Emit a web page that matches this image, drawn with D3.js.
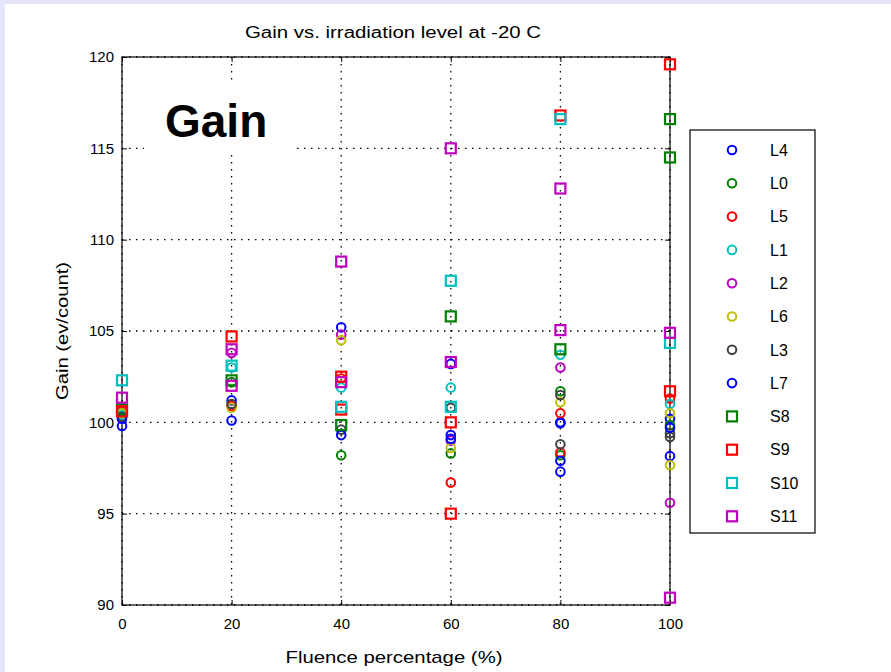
<!DOCTYPE html>
<html><head><meta charset="utf-8">
<script src="https://cdn.jsdelivr.net/npm/d3@7/dist/d3.min.js"></script>
<style>
html,body{margin:0;padding:0;background:#fff;}
svg{display:block;}
text{font-family:"Liberation Sans",Arial,Helvetica,sans-serif;}
</style>
</head><body>
<svg id="chart" width="891" height="672"></svg>
<script>
// ---------------- data ----------------
const titleText = "Gain vs. irradiation level at -20 C";
const xLabelText = "Fluence percentage (%)";
const yLabelText = "Gain (ev/count)";
const overlayText = "Gain";
const xValues = [0, 20, 40, 60, 80, 100];
const xTicks = [0, 20, 40, 60, 80, 100];
const yTicks = [90, 95, 100, 105, 110, 115, 120];
const seriesNames = ["L4","L0","L5","L1","L2","L6","L3","L7","S8","S9","S10","S11"];
// values per series: one list of readings for each fluence level in xValues
const L4  = [[99.8],  [101.2], [105.2],        [103.2],        [100.0, 97.3],  [100.2, 98.15]];
const L0  = [[100.5], [102.2], [98.2],         [98.3],         [101.7, 98.2],  [99.85]];
const L5  = [[100.6], [100.9], [102.4],        [96.7],         [100.5, 98.35], [101.3]];
const L1  = [[100.4], [103.0], [101.9],        [101.9],        [103.7],        [101.0]];
const L2  = [[100.7], [103.8], [104.8],        [99.0],         [103.0],        [95.6]];
const L6  = [[100.5], [100.8], [104.5],        [98.6],         [101.1],        [100.5, 97.65]];
const L3  = [[100.3], [101.0], [99.6],         [100.8],        [101.5, 98.8],  [99.4, 99.2]];
const L7  = [[100.2], [100.1], [99.3],         [99.3, 99.1],   [99.95, 97.9],  [99.7]];
const S8  = [[100.7], [102.3], [99.85],        [105.8],        [104.0],        [116.6, 114.5]];
const S9  = [[100.6], [104.7], [102.5, 100.7], [100.0, 95.0],  [116.8],        [119.6, 101.7]];
const S10 = [[102.3], [103.1], [100.85],       [107.75, 100.85],[116.6],       [104.35]];
const S11 = [[101.35],[104.0, 102.0], [108.8, 102.2], [115.0, 103.3], [112.8, 105.05], [104.9, 90.4]];
const seriesValues = [L4, L0, L5, L1, L2, L6, L3, L7, S8, S9, S10, S11];

// ---------------- styles ----------------
const seriesColors = ["#0000ff","#008000","#ff0000","#00bfbf","#bf00bf","#bfbf00","#404040","#0000ff",
                      "#008000","#ff0000","#00bfbf","#bf00bf"];
const seriesMarkers = ["o","o","o","o","o","o","o","o","s","s","s","s"];

const svg = d3.select("#chart");
const W = 891, H = 672;
svg.append("rect").attr("width", W).attr("height", H).attr("fill", "#e5e5fa");
svg.append("rect").attr("x", 5).attr("y", 4).attr("width", W - 5).attr("height", H - 4).attr("fill", "#ffffff");

const plot = {left: 122, right: 670, top: 57, bottom: 605};
const x = d3.scaleLinear().domain([0, 100]).range([plot.left, plot.right]);
const y = d3.scaleLinear().domain([90, 120]).range([plot.bottom, plot.top]);

// grid
const grid = svg.append("g").attr("stroke", "#000").attr("stroke-width", 1.3)
  .attr("stroke-dasharray", "1.5,5.5");
grid.selectAll("line.gx").data(xTicks).join("line")
  .attr("x1", d => x(d)).attr("x2", d => x(d)).attr("y1", plot.top).attr("y2", plot.bottom);
grid.selectAll("line.gy").data(yTicks).join("line")
  .attr("y1", d => y(d)).attr("y2", d => y(d)).attr("x1", plot.left).attr("x2", plot.right);

// overlay label with white background
svg.append("rect").attr("x", 144).attr("y", 84).attr("width", 148).attr("height", 70).attr("fill", "#fff");
svg.append("text").attr("x", 165).attr("y", 137).attr("font-size", 46).attr("font-weight", "bold")
  .attr("fill", "#000").text(overlayText);

// axes (ticks pointing inward, on all four sides)
const fs = 15;
const axB = svg.append("g").attr("transform", `translate(0,${plot.bottom})`)
  .call(d3.axisBottom(x).tickValues(xTicks).tickSizeInner(-5).tickSizeOuter(0).tickPadding(13).tickFormat(d3.format("d")));
const axL = svg.append("g").attr("transform", `translate(${plot.left},0)`)
  .call(d3.axisLeft(y).tickValues(yTicks).tickSizeInner(-5).tickSizeOuter(0).tickPadding(8).tickFormat(d3.format("d")));
const axT = svg.append("g").attr("transform", `translate(0,${plot.top})`)
  .call(d3.axisTop(x).tickValues(xTicks).tickSizeInner(-5).tickSizeOuter(0).tickFormat(""));
const axR = svg.append("g").attr("transform", `translate(${plot.right},0)`)
  .call(d3.axisRight(y).tickValues(yTicks).tickSizeInner(-5).tickSizeOuter(0).tickFormat(""));
[axB, axL, axT, axR].forEach(g => {
  g.select(".domain").remove();
  g.selectAll("line").attr("stroke", "#000").attr("stroke-width", 1);
  g.selectAll("text").attr("font-size", fs).attr("fill", "#000")
    .attr("font-family", '"Liberation Sans",Arial,sans-serif');
});
svg.append("rect").attr("x", plot.left).attr("y", plot.top)
  .attr("width", plot.right - plot.left).attr("height", plot.bottom - plot.top)
  .attr("fill", "none").attr("stroke", "#000").attr("stroke-width", 1.2);

// markers
function drawMarker(g, type, cx, cy, color) {
  if (type === "o") {
    g.append("circle").attr("cx", cx).attr("cy", cy).attr("r", 4.3)
      .attr("fill", "none").attr("stroke", color).attr("stroke-width", 2);
  } else {
    g.append("rect").attr("x", cx - 5).attr("y", cy - 5).attr("width", 10).attr("height", 10)
      .attr("fill", "none").attr("stroke", color).attr("stroke-width", 2.2);
  }
}
const marks = svg.append("g");
seriesValues.forEach((vals, si) => {
  const g = marks.append("g").attr("class", "series-" + seriesNames[si]);
  vals.forEach((list, xi) => {
    list.forEach(v => drawMarker(g, seriesMarkers[si], x(xValues[xi]), y(v), seriesColors[si]));
  });
});

// titles
svg.append("text").attr("x", (plot.left + plot.right) / 2 - 3).attr("y", 38)
  .attr("text-anchor", "middle").attr("font-size", 16).attr("textLength", 296)
  .attr("lengthAdjust", "spacingAndGlyphs").text(titleText);
svg.append("text").attr("x", (plot.left + plot.right) / 2 - 2).attr("y", 663)
  .attr("text-anchor", "middle").attr("font-size", 17).attr("textLength", 217)
  .attr("lengthAdjust", "spacingAndGlyphs").text(xLabelText);
svg.append("text").attr("transform", `translate(68,${(plot.top + plot.bottom) / 2}) rotate(-90)`)
  .attr("text-anchor", "middle").attr("font-size", 16).attr("textLength", 138)
  .attr("lengthAdjust", "spacingAndGlyphs").text(yLabelText);

// legend
const leg = {x: 690, y: 130, w: 125, h: 403, step: 33.3, first: 150};
svg.append("rect").attr("x", leg.x).attr("y", leg.y).attr("width", leg.w).attr("height", leg.h)
  .attr("fill", "#fff").attr("stroke", "#000").attr("stroke-width", 1.2);
seriesNames.forEach((name, i) => {
  const cy = leg.first + i * leg.step;
  drawMarker(svg, seriesMarkers[i], leg.x + 42, cy, seriesColors[i]);
  svg.append("text").attr("x", leg.x + 80).attr("y", cy).attr("dy", "0.36em")
    .attr("font-size", 16).attr("fill", "#000").text(name);
});
</script>
</body></html>
